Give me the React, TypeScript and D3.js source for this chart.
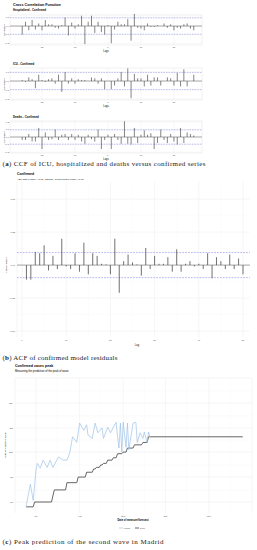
import React from "react";
import * as d3 from "d3";

// ---- (a) cross correlation, lags -26..26
const ccfLags = d3.range(-26, 27);
const hospitalizedCcf = [
  -0.1, 0.05, -0.05, 0.07, -0.04, 0.03, -0.05, 0.07, 0.02, 0.02, -0.02, -0.03, 0.01,
  0.1, -0.11, 0.04, -0.03, 0.02, 0.12, -0.21, 0.05, 0.12, -0.08, 0.05, -0.07, -0.1,
  0.01, -0.2, -0.04, 0.05, 0.02, 0.02, 0.08, -0.17, 0.14, -0.02, -0.03, -0.05, 0.03,
  -0.01, -0.01, 0.01, 0.0, 0.03, -0.02, 0.02, -0.05, -0.02, -0.03, 0.02, 0.03, -0.03, -0.05,
];
const icuCcf = [
  0.01, -0.01, 0.04, 0.02, -0.08, 0.07, 0.01, -0.01, 0.02, 0.03, -0.03, 0.07, -0.12,
  0.1, -0.03, 0.03, -0.03, 0.02, 0.01, 0.01, 0.0, 0.04, 0.03, -0.03, 0.03, -0.09,
  0.0, -0.09, -0.05, 0.03, 0.1, -0.06, 0.14, -0.19, 0.08, 0.03, 0.03, -0.06, 0.07,
  -0.05, 0.04, 0.04, -0.05, 0.0, 0.04, 0.03, -0.05, 0.09, -0.06, 0.13, -0.06, 0.0, 0.07,
];
const deathsCcf = [
  -0.04, -0.04, 0.04, -0.06, -0.06, 0.12, -0.16, 0.06, -0.04, -0.03, 0.1, -0.04, 0.03,
  0.04, -0.04, 0.04, -0.04, 0.03, -0.06, -0.09, 0.03, -0.03, -0.06, 0.1, -0.16, -0.04,
  0.03, -0.16, 0.04, -0.04, -0.09, 0.21, -0.09, -0.1, 0.12, -0.08, 0.03, 0.09, 0.03,
  0.05, -0.16, -0.08, 0.1, -0.04, -0.08, 0.04, -0.06, -0.1, 0.12, -0.08, 0.06, 0.04, 0.02,
];
const ccfBand = 0.095;
const ccfXTicks = [-20, -10, 0, 10, 20];

// ---- (b) residual ACF, lags 1..50
const acfLags = d3.range(1, 51);
const residualAcf = [
  -0.11, -0.11, 0.1, 0.09, 0.15, -0.04, 0.07, -0.03, 0.2, -0.01, -0.03, 0.09, -0.05,
  0.17, -0.07, 0.09, 0.07, 0.01, 0.005, -0.07, 0.2, -0.21, 0.03, 0.08, 0.02, 0.005,
  -0.08, 0.13, -0.03, 0.07, 0.01, 0.01, 0.06, -0.05, 0.12, -0.05, 0.01, 0.03, -0.01,
  0.01, -0.03, 0.09, -0.1, 0.06, 0.03, -0.03, 0.08, -0.03, 0.05, -0.07,
];
const acfBand = 0.095;
const acfYTicks = [-0.5, -0.25, 0, 0.25, 0.5];
const acfXTicks = [0, 10, 20, 30, 40, 50];

// ---- (c) peak prediction, days counted from 1 Jul 2020
const modelMeasureDay = [
  -7, -4, -2, 0, 1, 3, 5, 8, 10, 12, 16, 19, 22, 24, 26, 29, 31, 34, 36, 37, 40, 42, 44,
  47, 48, 51, 53, 55, 57, 58, 59, 60, 61, 62, 64, 65, 66, 69, 71, 72, 74, 76, 77, 79, 80, 81,
];
const modelPeakDay = [
  -5, 22, 2, 40, 48, 42, 52, 43, 52, 43, 56, 52, 52, 61, 81, 74, 98, 89, 96, 83, 79, 98, 86,
  92, 79, 93, 86, 93, 99, 81, 67, 98, 62, 99, 68, 98, 65, 98, 99, 74, 86, 79, 87, 74, 87, 81,
];
const realMeasureDay = [
  -7, -2, -1, 11, 13, 21, 22, 29, 30, 35, 36, 40, 41, 42, 43, 45, 46, 47, 48, 50, 51, 54,
  55, 57, 58, 61, 62, 64, 65, 69, 70, 75, 76, 79, 80, 147,
];
const realPeakDay = [
  -6, -6, 0, 0, 15, 15, 24, 24, 31, 31, 37, 37, 41, 41, 43, 43, 46, 46, 48, 48, 52, 52,
  55, 55, 60, 60, 62, 62, 67, 67, 71, 71, 74, 74, 81, 81,
];
const monthTicks = ["2020-07-01", "2020-08-01", "2020-09-01", "2020-10-01", "2020-11-01"];
const monthMinor = ["2020-06-16", "2020-07-16", "2020-08-16", "2020-09-16", "2020-10-16", "2020-11-16"];

const sans = "'Liberation Sans', Arial, sans-serif";
const serif = "'Liberation Serif', 'DejaVu Serif', serif";
const gridCol = "#ebebeb";
const tickCol = "#4d4d4d";
const bandCol = "#7479e6";

const day0 = new Date(2020, 6, 1);
const toDate = (d: number) => d3.timeDay.offset(day0, d);
const parse = (s: string) => d3.timeParse("%Y-%m-%d")(s) as Date;

function CcfPlot(props: {
  top: number;
  bottom: number;
  domain: [number, number];
  yTicks: number[];
  title?: string;
  subtitle: string;
  subY: number;
  values: number[];
}) {
  const { top, bottom, domain, yTicks, title, subtitle, subY, values } = props;
  const x = d3.scaleLinear().domain([-29.7, 28.5]).range([10, 202]);
  const y = d3.scaleLinear().domain(domain).range([bottom, top]);
  const fmt = d3.format(".1f");
  return (
    <g>
      {title && (
        <text x={13} y={subY - 4.5} fontSize={3.7} fontWeight="bold" fontFamily={sans}>
          {title}
        </text>
      )}
      <text x={13} y={subY} fontSize={2.8} fontWeight="bold" fontFamily={sans}>
        {subtitle}
      </text>
      <rect x={10} y={top} width={192} height={bottom - top} fill="#fff" stroke="#dcdcdc" strokeWidth={0.4} />
      {ccfXTicks.map((t) => (
        <line key={"gx" + t} x1={x(t)} x2={x(t)} y1={top} y2={bottom} stroke={gridCol} strokeWidth={0.4} />
      ))}
      {yTicks.map((t) => (
        <g key={"gy" + t}>
          <line x1={10} x2={202} y1={y(t)} y2={y(t)} stroke={gridCol} strokeWidth={0.4} />
          <text x={9} y={y(t) + 0.8} fontSize={2.3} textAnchor="end" fill={tickCol} fontFamily={sans}>
            {fmt(t)}
          </text>
        </g>
      ))}
      <line x1={10} x2={202} y1={y(ccfBand)} y2={y(ccfBand)} stroke={bandCol} strokeWidth={0.45} strokeDasharray="1.6,1" />
      <line x1={10} x2={202} y1={y(-ccfBand)} y2={y(-ccfBand)} stroke={bandCol} strokeWidth={0.45} strokeDasharray="1.6,1" />
      <line x1={10} x2={202} y1={y(0)} y2={y(0)} stroke="#555" strokeWidth={0.5} />
      {ccfLags.map((l, i) => (
        <line key={l} x1={x(l)} x2={x(l)} y1={y(0)} y2={y(values[i])} stroke="#333" strokeWidth={0.6} />
      ))}
      {ccfXTicks.map((t) => (
        <text key={"tx" + t} x={x(t)} y={bottom + 3} fontSize={2.3} textAnchor="middle" fill={tickCol} fontFamily={sans}>
          {t}
        </text>
      ))}
      <text x={106} y={bottom + 7} fontSize={2.6} textAnchor="middle" fontFamily={sans}>
        Lags
      </text>
      <text
        transform={`translate(5,${(top + bottom) / 2}) rotate(-90)`}
        fontSize={2.4}
        textAnchor="middle"
        fontFamily={sans}
      >
        Correlation
      </text>
    </g>
  );
}

function AcfPlot() {
  const left = 17, right = 250, top = 182, bottom = 337;
  const x = d3.scaleLinear().domain([0, 50]).range([22, 243]);
  const y = d3.scaleLinear().domain([-0.545, 0.63]).range([bottom, top]);
  const fmt = d3.format(".2f");
  const minorX = acfXTicks.slice(0, -1).map((t) => t + 5);
  const minorY = [-0.375, -0.125, 0.125, 0.375];
  return (
    <g>
      <text x={17} y={175} fontSize={3.4} fontWeight="bold" fontFamily={sans}>
        Confirmed
      </text>
      <text x={17} y={179.5} fontSize={2.5} fontFamily={sans}>
        ADF test p-value: &lt;0.01, Phillips - Perron test p-value: &lt;0.01
      </text>
      {minorX.map((t) => (
        <line key={"mx" + t} x1={x(t)} x2={x(t)} y1={top} y2={bottom} stroke="#f4f4f4" strokeWidth={0.3} />
      ))}
      {minorY.map((t) => (
        <line key={"my" + t} x1={left} x2={right} y1={y(t)} y2={y(t)} stroke="#f4f4f4" strokeWidth={0.3} />
      ))}
      {acfXTicks.map((t) => (
        <line key={"gx" + t} x1={x(t)} x2={x(t)} y1={top} y2={bottom} stroke={gridCol} strokeWidth={0.45} />
      ))}
      <line x1={left} x2={left} y1={top} y2={bottom} stroke={gridCol} strokeWidth={0.45} />
      {acfYTicks.map((t) => (
        <g key={"gy" + t}>
          <line x1={left} x2={right} y1={y(t)} y2={y(t)} stroke={gridCol} strokeWidth={0.45} />
          <text x={15} y={y(t) + 0.8} fontSize={2.3} textAnchor="end" fill={tickCol} fontFamily={sans}>
            {fmt(t)}
          </text>
        </g>
      ))}
      <line x1={left} x2={right} y1={y(acfBand)} y2={y(acfBand)} stroke={bandCol} strokeWidth={0.5} strokeDasharray="1.8,1.1" />
      <line x1={left} x2={right} y1={y(-acfBand)} y2={y(-acfBand)} stroke={bandCol} strokeWidth={0.5} strokeDasharray="1.8,1.1" />
      <line x1={left} x2={right} y1={y(0)} y2={y(0)} stroke="#555" strokeWidth={0.5} />
      {acfLags.map((l, i) => (
        <line key={l} x1={x(l)} x2={x(l)} y1={y(0)} y2={y(residualAcf[i])} stroke="#333" strokeWidth={0.7} />
      ))}
      {acfXTicks.map((t) => (
        <text key={"tx" + t} x={x(t)} y={bottom + 3.5} fontSize={2.3} textAnchor="middle" fill={tickCol} fontFamily={sans}>
          {t}
        </text>
      ))}
      <text x={137} y={bottom + 8.5} fontSize={2.6} textAnchor="middle" fontFamily={sans}>
        Lag
      </text>
      <text transform={`translate(7,${y(0)}) rotate(-90)`} fontSize={2.4} textAnchor="middle" fontFamily={sans}>
        Autocorrelation
      </text>
    </g>
  );
}

function PeakPlot() {
  const left = 15, right = 252, top = 378, bottom = 513;
  const ticks = monthTicks.map(parse);
  const minor = monthMinor.map(parse);
  const x = d3.scaleTime().domain([ticks[0], ticks[4]]).range([36, 209]);
  const y = d3.scaleTime().domain([ticks[0], ticks[4]]).range([502, 403]);
  const fmt = d3.timeFormat("%b");
  const modelLine = d3
    .line<number>()
    .x((_, i) => x(toDate(modelMeasureDay[i])))
    .y((d) => y(toDate(d)));
  const realLine = d3
    .line<number>()
    .x((_, i) => x(toDate(realMeasureDay[i])))
    .y((d) => y(toDate(d)));
  return (
    <g>
      <text x={15} y={367} fontSize={3.6} fontWeight="bold" fontFamily={sans}>
        Confirmed cases peak
      </text>
      <text x={15} y={372} fontSize={2.7} fontFamily={sans}>
        Measuring the prediction of the peak of wave
      </text>
      {minor.map((d, i) => (
        <g key={"m" + i}>
          {x(d) > left && x(d) < right && (
            <line x1={x(d)} x2={x(d)} y1={top} y2={bottom} stroke="#f3f3f3" strokeWidth={0.35} />
          )}
          {y(d) > top && y(d) < bottom && (
            <line x1={left} x2={right} y1={y(d)} y2={y(d)} stroke="#f3f3f3" strokeWidth={0.35} />
          )}
        </g>
      ))}
      {ticks.map((d, i) => (
        <g key={"t" + i}>
          <line x1={x(d)} x2={x(d)} y1={top} y2={bottom} stroke={gridCol} strokeWidth={0.45} />
          <line x1={left} x2={right} y1={y(d)} y2={y(d)} stroke={gridCol} strokeWidth={0.45} />
          <text x={x(d)} y={bottom + 3.5} fontSize={2.3} textAnchor="middle" fill={tickCol} fontFamily={sans}>
            {fmt(d)}
          </text>
          <text x={13} y={y(d) + 0.8} fontSize={2.3} textAnchor="end" fill={tickCol} fontFamily={sans}>
            {fmt(d)}
          </text>
        </g>
      ))}
      <line x1={left} x2={left} y1={top} y2={bottom} stroke={gridCol} strokeWidth={0.45} />
      <line x1={right} x2={right} y1={top} y2={bottom} stroke={gridCol} strokeWidth={0.45} />
      <line x1={left} x2={right} y1={top} y2={top} stroke={gridCol} strokeWidth={0.45} />
      <path d={realLine(realPeakDay) || ""} fill="none" stroke="#555" strokeWidth={0.9} />
      <path d={modelLine(modelPeakDay) || ""} fill="none" stroke="#9ec3e6" strokeWidth={0.7} />
      <text x={133} y={520.5} fontSize={2.6} textAnchor="middle" fontWeight="bold" fontFamily={sans}>
        Date of measure/forecast
      </text>
      <text transform={`translate(6,445) rotate(-90)`} fontSize={2.4} textAnchor="middle" fontFamily={sans}>
        Date of prediction value
      </text>
      <line x1={119} x2={123} y1={528} y2={528} stroke="#9ec3e6" strokeWidth={0.7} />
      <text x={124} y={528.8} fontSize={2.3} fontFamily={sans} fill={tickCol}>
        Model
      </text>
      <line x1={135} x2={139} y1={528} y2={528} stroke="#555" strokeWidth={0.9} />
      <text x={140} y={528.8} fontSize={2.3} fontFamily={sans} fill={tickCol}>
        Real
      </text>
    </g>
  );
}

function Caption({ y, label, text, width }: { y: number; label: string; text: string; width: number }) {
  return (
    <text x={2.5} y={y} fontSize={7} fontFamily={serif} fill="#222" textLength={width} lengthAdjust="spacing">
      (<tspan fontWeight="bold">{label}</tspan>) {text}
    </text>
  );
}

export default function App() {
  return (
    <svg
      width={257}
      height={550}
      viewBox="0 0 257 550"
      style={{ position: "absolute", left: 0, top: 0, background: "#fff" }}
    >
      <rect width={257} height={550} fill="#fff" />
      <CcfPlot
        top={15}
        bottom={45}
        domain={[-0.22, 0.128]}
        yTicks={[-0.2, -0.1, 0, 0.1]}
        title="Cross Correlation Function"
        subtitle="Hospitalized - Confirmed"
        subY={10.5}
        values={hospitalizedCcf}
      />
      <CcfPlot
        top={68}
        bottom={100}
        domain={[-0.21, 0.144]}
        yTicks={[-0.2, -0.1, 0, 0.1]}
        subtitle="ICU - Confirmed"
        subY={64.5}
        values={icuCcf}
      />
      <CcfPlot
        top={121}
        bottom={153}
        domain={[-0.213, 0.213]}
        yTicks={[-0.2, -0.1, 0, 0.1, 0.2]}
        subtitle="Deaths - Confirmed"
        subY={118}
        values={deathsCcf}
      />
      <Caption y={165.5} label="a" text="CCF of ICU, hospitalized and deaths versus confirmed series" width={203} />
      <AcfPlot />
      <Caption y={359.5} label="b" text="ACF of confirmed model residuals" width={115} />
      <PeakPlot />
      <Caption y={543.5} label="c" text="Peak prediction of the second wave in Madrid" width={161} />
    </svg>
  );
}
